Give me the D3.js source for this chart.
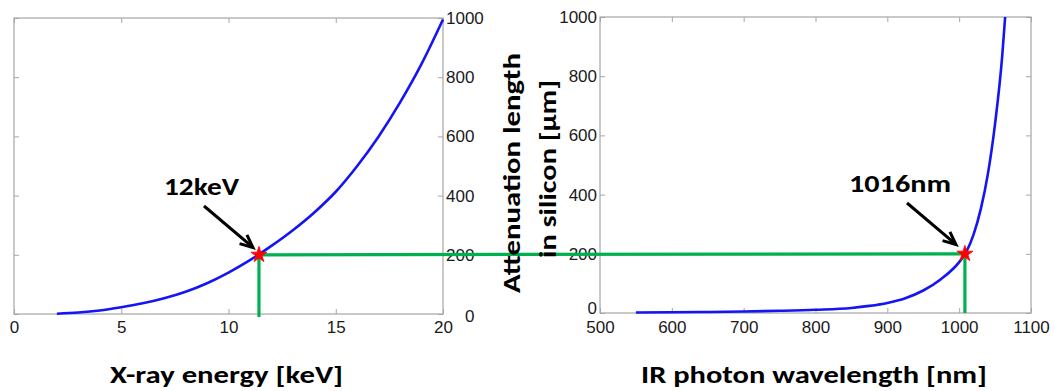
<!DOCTYPE html>
<html>
<head>
<meta charset="utf-8">
<script src="https://cdn.jsdelivr.net/npm/d3@7"></script>
<style>
  html, body { margin: 0; padding: 0; background: #fff; }
  svg { display: block; }
</style>
</head>
<body>
<div id="chart"></div>
<script>
// left panel: x-ray
const xrayEnergy = [2, 3, 4, 5, 6, 7, 8, 9, 10, 11, 12, 13, 14, 15, 16, 17, 18, 19, 20];
const xrayAtten = [1, 5, 12, 23, 36, 53, 75, 104, 140, 182, 230, 283, 343, 413, 500, 600, 715, 845, 995];
const xrayTicksX = [0, 5, 10, 15, 20];
const xrayMark = [11.42, 200];

// right panel: IR
const irWavelength = [550, 600, 650, 700, 750, 800, 850, 875, 900, 925, 950, 975, 1000, 1010, 1020, 1030, 1040, 1050, 1060, 1064];
const irAtten = [1.5, 2.4, 3.5, 5, 7.5, 11, 17, 24, 34, 50, 76, 115, 172, 207, 265, 350, 470, 640, 870, 1000];
const irTicksX = [500, 600, 700, 800, 900, 1000, 1100];
const irMark = [1008, 200];

const yTicks = [0, 200, 400, 600, 800, 1000];

const W = 1055, H = 391;
const numFont = "'Liberation Sans', Arial, sans-serif";
const lblFont = "Carlito, Lato, 'Open Sans', sans-serif";
const boxColor = "#a6a6a6";
const green = "#00b050";
const fmt = d3.format("d");

const svg = d3.select("#chart").append("svg")
  .attr("width", W)
  .attr("height", H)
  .attr("viewBox", [0, 0, W, H]);

svg.append("rect").attr("width", W).attr("height", H).attr("fill", "#fff");

const xL = d3.scaleLinear([0, 20], [14, 443]);
const yL = d3.scaleLinear([0, 1000], [314, 18]);
const xR = d3.scaleLinear([500, 1100], [600, 1031]);
const yR = d3.scaleLinear([0, 1000], [313, 17]);

function styleAxis(g) {
  g.select(".domain").remove();
  g.selectAll(".tick line").attr("stroke", boxColor);
  g.selectAll(".tick text")
    .attr("fill", "#1a1a1a")
    .attr("font-family", numFont)
    .attr("font-size", 17);
}

function panel(x, y, ticksX, yOnRight, padX) {
  const [x0, x1] = x.range();
  const [y0, y1] = y.range();
  svg.append("rect")
    .attr("x", x0).attr("y", y1)
    .attr("width", x1 - x0).attr("height", y0 - y1)
    .attr("fill", "none")
    .attr("stroke", boxColor)
    .attr("stroke-width", 1.2);

  svg.append("g").attr("transform", `translate(0,${y0})`)
    .call(d3.axisBottom(x).tickValues(ticksX).tickFormat(fmt).tickSizeInner(-5).tickSizeOuter(0).tickPadding(padX))
    .call(styleAxis);
  svg.append("g").attr("transform", `translate(0,${y1})`)
    .call(d3.axisTop(x).tickValues(ticksX).tickSizeInner(-5).tickSizeOuter(0).tickFormat(""))
    .call(styleAxis);

  const labelled = (yOnRight ? d3.axisRight(y) : d3.axisLeft(y))
    .tickValues(yTicks).tickFormat(fmt).tickSizeInner(-5).tickSizeOuter(0).tickPadding(3);
  const bare = (yOnRight ? d3.axisLeft(y) : d3.axisRight(y))
    .tickValues(yTicks).tickSizeInner(-5).tickSizeOuter(0).tickFormat("");

  const gl = svg.append("g").attr("transform", `translate(${yOnRight ? x1 : x0},0)`)
    .call(labelled).call(styleAxis);
  svg.append("g").attr("transform", `translate(${yOnRight ? x0 : x1},0)`)
    .call(bare).call(styleAxis);
  return gl;
}

const leftY = panel(xL, yL, xrayTicksX, true, 7);
// the "0" label of the left panel sits off to the right in the original
leftY.selectAll(".tick").filter(d => d === 0).select("text").attr("x", 22).attr("dy", "0.42em");
const rightY = panel(xR, yR, irTicksX, false, 8);
rightY.selectAll(".tick").filter(d => d === 0).select("text").attr("y", -5);

// curves
const lineL = d3.line().x((d, i) => xL(xrayEnergy[i])).y(d => yL(d)).curve(d3.curveMonotoneX);
const lineR = d3.line().x((d, i) => xR(irWavelength[i])).y(d => yR(d)).curve(d3.curveMonotoneX);

svg.append("path").attr("d", lineL(xrayAtten))
  .attr("fill", "none").attr("stroke", "#1414f5").attr("stroke-width", 2.6);
svg.append("path").attr("d", lineR(irAtten))
  .attr("fill", "none").attr("stroke", "#1414f5").attr("stroke-width", 2.6);

// green guide lines
const pL = [xL(xrayMark[0]), yL(xrayMark[1])];
const pR = [xR(irMark[0]), yR(irMark[1])];
const guides = [
  [pL, pR],
  [pL, [pL[0], yL(0) + 3]],
  [pR, [pR[0], yR(0)]]
];
svg.selectAll(".guide").data(guides).join("line")
  .attr("class", "guide")
  .attr("x1", d => d[0][0]).attr("y1", d => d[0][1])
  .attr("x2", d => d[1][0]).attr("y2", d => d[1][1])
  .attr("stroke", green).attr("stroke-width", 3.2);

// arrows
function arrow(tail, tip) {
  const ang = Math.atan2(tip[1] - tail[1], tip[0] - tail[0]);
  const len = 14, spread = 0.42;
  const b1 = [tip[0] - len * Math.cos(ang - spread), tip[1] - len * Math.sin(ang - spread)];
  const b2 = [tip[0] - len * Math.cos(ang + spread), tip[1] - len * Math.sin(ang + spread)];
  svg.append("line")
    .attr("x1", tail[0]).attr("y1", tail[1])
    .attr("x2", tip[0] - 2 * Math.cos(ang)).attr("y2", tip[1] - 2 * Math.sin(ang))
    .attr("stroke", "#000").attr("stroke-width", 3);
  svg.append("path")
    .attr("d", `M${b1}L${tip}L${b2}`)
    .attr("fill", "none").attr("stroke", "#000").attr("stroke-width", 3)
    .attr("stroke-linejoin", "miter");
}
arrow([204, 206], [253, 247.5]);
arrow([907, 203], [956, 244.5]);

// stars
const star = d3.symbol().type(d3.symbolStar).size(80);
[pL, pR].forEach(p => {
  svg.append("path").attr("d", star())
    .attr("transform", `translate(${p[0]},${p[1]})`)
    .attr("fill", "#ff0000").attr("stroke", "#ff0000").attr("stroke-width", 0.8);
});

// text labels
function label(txt, x, y, len, anchor, rot) {
  const t = svg.append("text")
    .attr("font-family", lblFont)
    .attr("font-weight", "bold")
    .attr("font-size", 25)
    .attr("fill", "#000")
    .attr("text-anchor", anchor)
    .attr("textLength", len)
    .attr("lengthAdjust", "spacingAndGlyphs")
    .text(txt);
  if (rot) t.attr("transform", `translate(${x},${y}) rotate(-90)`);
  else t.attr("x", x).attr("y", y);
}
label("12keV", 164, 195, 75, "start");
label("1016nm", 849, 192, 102, "start");
label("X-ray energy [keV]", 226.5, 383, 233, "middle");
label("IR photon wavelength [nm]", 814, 383, 346, "middle");
label("Attenuation length", 520, 173, 240, "middle", true);
label("in silicon [µm]", 556, 169, 178, "middle", true);
</script>
</body>
</html>
